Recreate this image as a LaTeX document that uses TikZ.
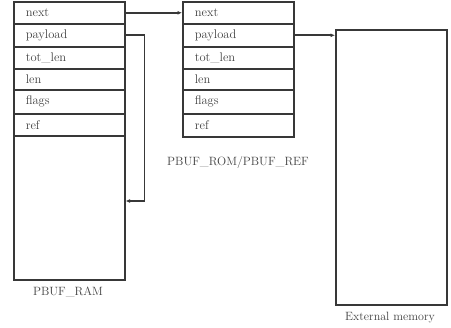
\documentclass[tikz,border=0pt]{standalone}
\usetikzlibrary{arrows.meta}
\definecolor{ln}{HTML}{383838}
\definecolor{tx}{HTML}{404040}
\begin{document}
\begin{tikzpicture}[x=1pt,y=-1pt,
  every node/.style={font=\fontsize{12.5}{14}\selectfont, text=tx},
  row/.style={draw=ln, line width=1.6pt, anchor=north west, minimum width=111pt,
    text width=87pt, inner xsep=12pt, inner ysep=0pt, align=left},
  blk/.style={draw=ln, line width=1.6pt, anchor=north west, inner sep=0pt},
  conn/.style={draw=ln, line width=1.6pt, -{Latex[length=4.5pt,width=4pt]}},
  captext/.style={font=\fontsize{12}{14}\selectfont, text=tx}]
\useasboundingbox (0,0) rectangle (451,328);
% PBUF_RAM
\node[row, minimum height=22pt] (rn) at (13,1) {next};
\node[row, minimum height=23pt] (rp) at (13,23) {payload};
\node[row, minimum height=22pt] (rt) at (13,46) {tot\_len};
\node[row, minimum height=21pt] (rl) at (13,68) {len};
\node[row, minimum height=24pt] (rf) at (13,89) {flags};
\node[row, minimum height=22pt] (rr) at (13,113) {ref};
\node[blk, minimum width=111pt, minimum height=144pt] (rrest) at (13,135) {};
\node[captext] (ramcap) at (68,292) {PBUF\_RAM};
% PBUF_ROM/PBUF_REF
\node[row, minimum height=22pt] (mn) at (182,1) {next};
\node[row, minimum height=23pt] (mp) at (182,23) {payload};
\node[row, minimum height=22pt] (mt) at (182,46) {tot\_len};
\node[row, minimum height=21pt] (ml) at (182,68) {len};
\node[row, minimum height=24pt] (mf) at (182,89) {flags};
\node[row, minimum height=23pt] (mr) at (182,113) {ref};
\node[captext] (romcap) at (238,163) {PBUF\_ROM/PBUF\_REF};
% External memory
\node[blk, minimum width=111pt, minimum height=275pt] (ext) at (335,29) {};
\node[captext] (extcap) at (390,318) {External memory};
% connectors
\coordinate (rback) at (rrest.east |- 0,201);
\draw[conn] (rn.east) -- (mn.west);
\draw[conn] (rp.east) -- ++(19,0) |- (rback);
\draw[conn] (mp.east) -- (ext.west |- mp.east);
\end{tikzpicture}
\end{document}
